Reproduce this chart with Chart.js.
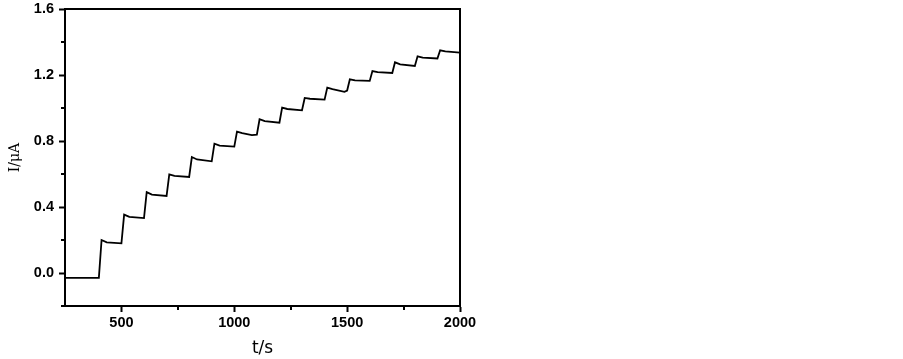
<!DOCTYPE html>
<html>
<head>
<meta charset="utf-8">
<script src="https://cdn.jsdelivr.net/npm/chart.js@4.4.0/dist/chart.umd.min.js"></script>
<style>
  html, body { margin: 0; padding: 0; background: #fff; }
  #wrap { width: 903px; height: 359px; position: relative; }
</style>
</head>
<body>
<div id="wrap"><canvas id="chart"></canvas></div>
<script>
// Amperometric response (t in s, I in uA)
const timeS = [
  250, 290, 400,
  412, 435, 500,
  512, 535, 600,
  612, 635, 700,
  712, 735, 800,
  812, 835, 900,
  912, 935, 1000,
  1012, 1035, 1078, 1100,
  1112, 1135, 1200,
  1212, 1235, 1300,
  1312, 1335, 1400,
  1412, 1435, 1488, 1500,
  1512, 1535, 1600,
  1612, 1635, 1700,
  1712, 1735, 1800,
  1812, 1835, 1900,
  1912, 1935, 2000
];
const currentUA = [
  -0.03, -0.03, -0.03,
  0.200, 0.186, 0.180,
  0.354, 0.340, 0.333,
  0.490, 0.475, 0.467,
  0.598, 0.588, 0.582,
  0.703, 0.688, 0.677,
  0.784, 0.772, 0.766,
  0.857, 0.848, 0.836, 0.839,
  0.932, 0.920, 0.911,
  1.002, 0.994, 0.986,
  1.061, 1.056, 1.051,
  1.124, 1.115, 1.098, 1.106,
  1.174, 1.168, 1.164,
  1.224, 1.217, 1.212,
  1.277, 1.265, 1.255,
  1.313, 1.305, 1.300,
  1.350, 1.343, 1.336
];

// axis ticks
const xMajor = [500, 1000, 1500, 2000];
const xMinor = [750, 1250, 1750];
const yMajor = [0.0, 0.4, 0.8, 1.2, 1.6];
const yMinor = [-0.2, 0.2, 0.6, 1.0, 1.4];

const points = timeS.map((t, i) => ({ x: t, y: currentUA[i] }));

// short minor ticks, drawn through the scales
const minorTicks = {
  id: 'minorTicks',
  afterDraw(chart) {
    const ctx = chart.ctx;
    const xs = chart.scales.x, ys = chart.scales.y;
    ctx.save();
    ctx.strokeStyle = '#000';
    ctx.lineWidth = 2;
    ctx.beginPath();
    xMinor.forEach(v => {
      const px = Math.round(xs.getPixelForValue(v));
      ctx.moveTo(px, xs.top);
      ctx.lineTo(px, xs.top + 4);
    });
    yMinor.forEach(v => {
      const py = Math.round(ys.getPixelForValue(v));
      ctx.moveTo(ys.right, py);
      ctx.lineTo(ys.right - 4, py);
    });
    ctx.stroke();
    ctx.restore();
  }
};

const tickFont = { family: 'Arial, "Liberation Sans", sans-serif', size: 14.5, weight: 'bold' };

new Chart(document.getElementById('chart'), {
  type: 'line',
  data: {
    datasets: [{
      data: points,
      borderColor: '#000',
      borderWidth: 1.8,
      pointRadius: 0,
      tension: 0,
      fill: false
    }]
  },
  options: {
    responsive: true,
    maintainAspectRatio: false,
    animation: false,
    layout: { padding: { top: 9, right: 443, left: 0, bottom: 0 } },
    plugins: { legend: { display: false }, tooltip: { enabled: false } },
    scales: {
      x: {
        type: 'linear',
        min: 250,
        max: 2000,
        afterBuildTicks: s => { s.ticks = xMajor.map(v => ({ value: v })); },
        afterFit: s => { s.height = 53; s.paddingLeft = 0; s.paddingRight = 0; },
        ticks: { color: '#000', font: tickFont, padding: 2, maxRotation: 0, callback: v => String(v) },
        grid: { drawOnChartArea: false, drawTicks: true, tickLength: 6, tickWidth: 2, tickColor: '#000' },
        border: { display: true, color: '#000', width: 2 },
        title: {
          display: true, text: 't/s', color: '#000',
          font: { family: '"DejaVu Sans", sans-serif', size: 17 },
          padding: { top: 0, bottom: 0 }
        }
      },
      y: {
        type: 'linear',
        min: -0.2,
        max: 1.6,
        afterBuildTicks: s => { s.ticks = yMajor.map(v => ({ value: v })); },
        afterFit: s => { s.width = 65; s.paddingTop = 0; s.paddingBottom = 0; },
        ticks: { color: '#000', font: tickFont, padding: 5, callback: v => v.toFixed(1) },
        grid: { drawOnChartArea: false, drawTicks: true, tickLength: 6, tickWidth: 2, tickColor: '#000' },
        border: { display: true, color: '#000', width: 2 },
        title: {
          display: true, text: 'I/μA', color: '#000',
          font: { family: '"DejaVu Serif", serif', size: 14 },
          padding: { top: 7, bottom: 0 }
        }
      },
      x2: {
        type: 'linear',
        position: 'top',
        min: 250,
        max: 2000,
        afterFit: s => { s.height = 0; },
        ticks: { display: false },
        grid: { drawOnChartArea: false, drawTicks: false },
        border: { display: true, color: '#000', width: 2 }
      },
      y2: {
        type: 'linear',
        position: 'right',
        min: -0.2,
        max: 1.6,
        afterFit: s => { s.width = 0; s.paddingTop = 0; s.paddingBottom = 0; },
        ticks: { display: false },
        grid: { drawOnChartArea: false, drawTicks: false },
        border: { display: true, color: '#000', width: 2 }
      }
    }
  },
  plugins: [minorTicks]
});
</script>
</body>
</html>
